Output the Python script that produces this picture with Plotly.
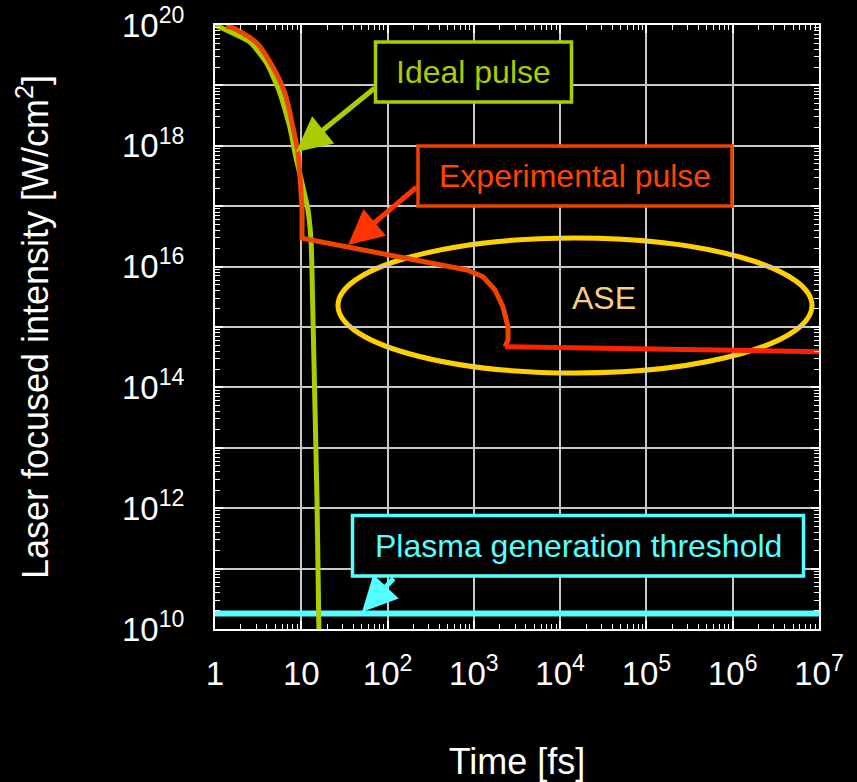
import plotly.graph_objects as go

# ---- data ----
ideal_t = [1.0, 2.54, 4.0, 5.67, 7.4, 8.45, 11.95, 13.0, 13.7, 15.2, 16.0]
ideal_I = [1.0e20, 5.2e19, 2.3e19, 7.4e18, 2.0e18, 7.6e17, 8.7e16, 2.5e16, 1.17e15, 1.4e12, 1.0e10]

exp_t = [1.34, 1.62, 3.07, 4.70, 6.47, 8.02, 9.16, 10.2, 10.2,
         832, 1276, 1758, 2177, 2490, 2490, 2296]
exp_I = [9.5e19, 8.9e19, 5.0e19, 2.0e19, 7.4e18, 2.0e18, 7.6e17, 8.7e16, 2.95e16,
         8.8e15, 6.8e15, 4.1e15, 2.14e15, 1.0e15, 6.1e14, 4.7e14]

ase_t = [2296, 1.0e7]
ase_I = [4.7e14, 3.9e14]

thr_t = [1.0, 1.0e7]
thr_I = [1.8e10, 1.8e10]

x_tickvals = [1, 10, 1e2, 1e3, 1e4, 1e5, 1e6, 1e7]
x_ticktext = ["1", "10", "10<sup>2</sup>", "10<sup>3</sup>", "10<sup>4</sup>",
              "10<sup>5</sup>", "10<sup>6</sup>", "10<sup>7</sup>"]
y_tickvals = [10.0 ** k for k in range(10, 21)]
y_ticktext = [("10<sup>%d</sup>" % k) if k % 2 == 0 else "" for k in range(10, 21)]
x_minor = [m * 10.0 ** k for k in range(0, 7) for m in range(2, 10)]
y_minor = [m * 10.0 ** k for k in range(10, 20) for m in range(2, 10)]

# ---- layout geometry ----
W, H = 857, 782
L, R, T, B = 215, 819, 25, 629
PW, PH = R - L, B - T


def px(x):
    return (x - L) / PW


def py(y):
    return (B - y) / PH


GREEN = "#aacc00"
ORANGE = "#ee4400"
RED = "#ff2200"
CYAN = "#55ffff"
GOLD = "#ffd000"
FONT = "Liberation Sans, Arial, sans-serif"

fig = go.Figure()
fig.add_trace(go.Scatter(x=thr_t, y=thr_I, mode="lines",
                         line=dict(color=CYAN, width=6), hoverinfo="skip"))
fig.add_trace(go.Scatter(x=ideal_t, y=ideal_I, mode="lines",
                         line=dict(color=GREEN, width=5, shape="spline", smoothing=0.5),
                         hoverinfo="skip"))
fig.add_trace(go.Scatter(x=exp_t[:8], y=exp_I[:8], mode="lines",
                         line=dict(color=ORANGE, width=5, shape="spline", smoothing=0.8),
                         hoverinfo="skip"))
fig.add_trace(go.Scatter(x=exp_t[7:], y=exp_I[7:], mode="lines",
                         line=dict(color=ORANGE, width=5), hoverinfo="skip"))
fig.add_trace(go.Scatter(x=ase_t, y=ase_I, mode="lines",
                         line=dict(color=RED, width=5), hoverinfo="skip"))
# invisible trace that carries the minor-tick overlay axes
fig.add_trace(go.Scatter(x=[1e3], y=[1e15], xaxis="x2", yaxis="y2", mode="markers",
                         marker=dict(opacity=0), hoverinfo="skip"))

shapes = []
# ASE ellipse
shapes.append(dict(type="circle", xref="paper", yref="paper",
                   x0=px(338), x1=px(812), y0=py(373), y1=py(238),
                   line=dict(color=GOLD, width=5), layer="below"))
# label boxes
for (x0, x1, y0, y1, col) in [(375.5, 571.5, 42, 102, GREEN),
                              (418, 732, 146, 206, ORANGE),
                              (352.5, 803.5, 515.5, 576, CYAN)]:
    shapes.append(dict(type="rect", xref="paper", yref="paper",
                       x0=px(x0), x1=px(x1), y0=py(y1), y1=py(y0),
                       line=dict(color=col, width=3.5), fillcolor="black", layer="above"))

annotations = []
for (txt, cx, cy, col) in [("Ideal pulse", 473.5, 72, GREEN),
                           ("Experimental pulse", 575, 176, "#ff4400"),
                           ("Plasma generation threshold", 578, 546, CYAN),
                           ("ASE", 604, 298, "#f5cf85")]:
    annotations.append(dict(text=txt, xref="paper", yref="paper", x=px(cx), y=py(cy),
                            xanchor="center", yanchor="middle", showarrow=False,
                            font=dict(family=FONT, size=32, color=col)))
# arrows
for (tx, ty, sx, sy, col) in [(296, 152, 376, 87, GREEN),
                              (348, 245, 418, 186, "#ff3300"),
                              (362, 612, 395, 577, CYAN)]:
    annotations.append(dict(text="", xref="paper", yref="paper", x=px(tx), y=py(ty),
                            ax=sx - tx, ay=sy - ty, showarrow=True, arrowhead=2,
                            arrowsize=1.4, arrowwidth=5, arrowcolor=col, standoff=0))

axis_common = dict(
    showline=True, linecolor="white", linewidth=2, mirror="allticks",
    ticks="inside", ticklen=8, tickcolor="white", tickwidth=1.5,
    showgrid=True, gridcolor="#c8c8c8", gridwidth=1.5, zeroline=False,
    tickfont=dict(family=FONT, size=33, color="white"), automargin=False,
)
minor_common = dict(
    tickmode="array", ticks="inside", ticklen=5, tickcolor="white", tickwidth=1,
    showticklabels=False, showgrid=False, showline=True, linecolor="white",
    linewidth=2, zeroline=False, mirror="allticks", automargin=False,
)

fig.update_layout(
    width=W, height=H,
    margin=dict(l=L, r=W - R, t=T, b=H - B),
    paper_bgcolor="black", plot_bgcolor="black",
    showlegend=False,
    shapes=shapes, annotations=annotations,
    xaxis=dict(type="log", range=[0, 7], tickmode="array",
               tickvals=x_tickvals, ticktext=x_ticktext, ticklabelstandoff=14,
               title=dict(text="Time [fs]", standoff=58,
                          font=dict(family=FONT, size=36, color="white")),
               **axis_common),
    yaxis=dict(type="log", range=[10, 20], tickmode="array",
               tickvals=y_tickvals, ticktext=y_ticktext, ticklabelstandoff=22,
               title=dict(text="Laser focused intensity [W/cm<sup>2</sup>]", standoff=62,
                          font=dict(family=FONT, size=36, color="white")),
               **axis_common),
    xaxis2=dict(type="log", range=[0, 7], overlaying="x", anchor="y2", side="bottom",
                tickvals=x_minor, **minor_common),
    yaxis2=dict(type="log", range=[10, 20], overlaying="y", anchor="x2", side="left",
                tickvals=y_minor, **minor_common),
)

fig.write_html("out.html")
